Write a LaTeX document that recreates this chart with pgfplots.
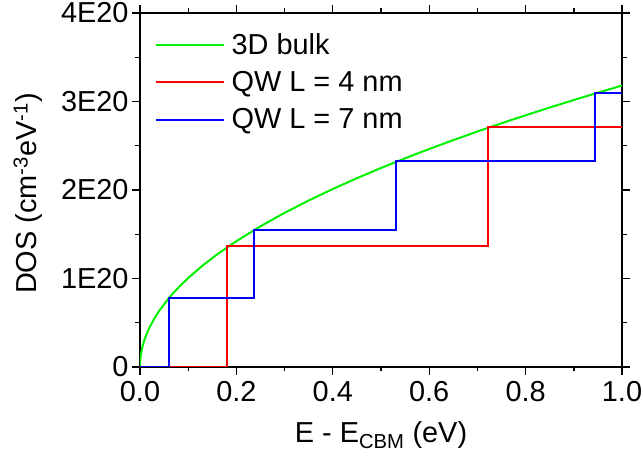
\documentclass[border=0pt]{standalone}
\usepackage{pgfplots}
\pgfplotsset{compat=1.18}
\usepackage{fontspec}
\setmainfont{Liberation Sans}
\usetikzlibrary{calc}
\definecolor{bulkgreen}{RGB}{0,240,0}
\begin{document}
\begin{tikzpicture}
\begin{axis}[
  scale only axis,
  width=482bp, height=354bp,
  xmin=0, xmax=1, ymin=0, ymax=4,
  axis line style={line width=1.8pt},
  every tick/.style={black, line width=1.4pt},
  tick align=outside,
  major tick length=8bp, minor tick length=4.5bp,
  xtick={0,0.2,0.4,0.6,0.8,1.0},
  xticklabels={0.0,0.2,0.4,0.6,0.8,1.0},
  minor xtick={0.1,0.3,0.5,0.7,0.9},
  ytick={0,1,2,3,4},
  yticklabels={0,1E20,2E20,3E20,4E20},
  minor ytick={0.5,1.5,2.5,3.5},
  /pgf/number format/assume math mode=true,
  ticklabel style={font=\fontsize{29}{34}\selectfont},
  xticklabel style={yshift=-3bp},
  label style={font=\fontsize{29}{34}\selectfont},
  xlabel={E - E\textsubscript{CBM} (eV)},
  ylabel={DOS (cm\textsuperscript{-3}eV\textsuperscript{-1})},
  xlabel style={at={(axis description cs:0.5,-0.2147)}, anchor=base},
  ylabel style={at={(axis description cs:-0.2324,0.49)}, anchor=center},
  legend style={draw=none, fill=none, at={(axis cs:0.031,3.786)}, anchor=north west,
    font=\fontsize{29}{34}\selectfont, row sep=12.5bp, inner sep=0pt,
    nodes={inner sep=1.5bp},
    /tikz/column 1/.style={column sep=5bp}},
  legend cell align=left,
  legend image code/.code={\draw[#1] (0bp,0bp) -- (68bp,0bp);},
]
\addplot[color=bulkgreen, line width=2pt] coordinates {
(0,0) (0.0001,0.0318) (0.0005,0.0711) (0.001,0.1006) (0.002,0.1422) (0.003,0.1742)
(0.005,0.2249) (0.0075,0.2754) (0.01,0.318) (0.015,0.3895) (0.02,0.4497) (0.03,0.5508)
(0.04,0.636) (0.06,0.7789) (0.07,0.8414) (0.08,0.8994) (0.1,1.0056) (0.13,1.1466)
(0.16,1.272) (0.2,1.4221) (0.25,1.59) (0.3,1.7418) (0.35,1.8813) (0.4,2.0112)
(0.45,2.1332) (0.5,2.2486) (0.55,2.3583) (0.6,2.4632) (0.65,2.5638) (0.7,2.6606)
(0.75,2.7540) (0.8,2.8443) (0.85,2.9318) (0.9,3.0168) (0.95,3.0995) (1.0,3.18)
};
\addlegendentry{3D bulk}
\addplot[color=red, line width=2pt] coordinates {
(0,0) (0.18,0) (0.18,1.365) (0.723,1.365) (0.723,2.71) (1,2.71)
};
\addlegendentry{QW L = 4 nm}
\addplot[color=blue, line width=2pt] coordinates {
(0,0) (0.061,0) (0.061,0.78) (0.237,0.78) (0.237,1.55) (0.532,1.55) (0.532,2.33) (0.945,2.33) (0.945,3.10) (1,3.10)
};
\addlegendentry{QW L = 7 nm}
\end{axis}
\pgfresetboundingbox
\path ($(current axis.south west)+(-140bp,-93bp)$) rectangle ($(current axis.north east)+(21bp,13bp)$);
\end{tikzpicture}
\end{document}
